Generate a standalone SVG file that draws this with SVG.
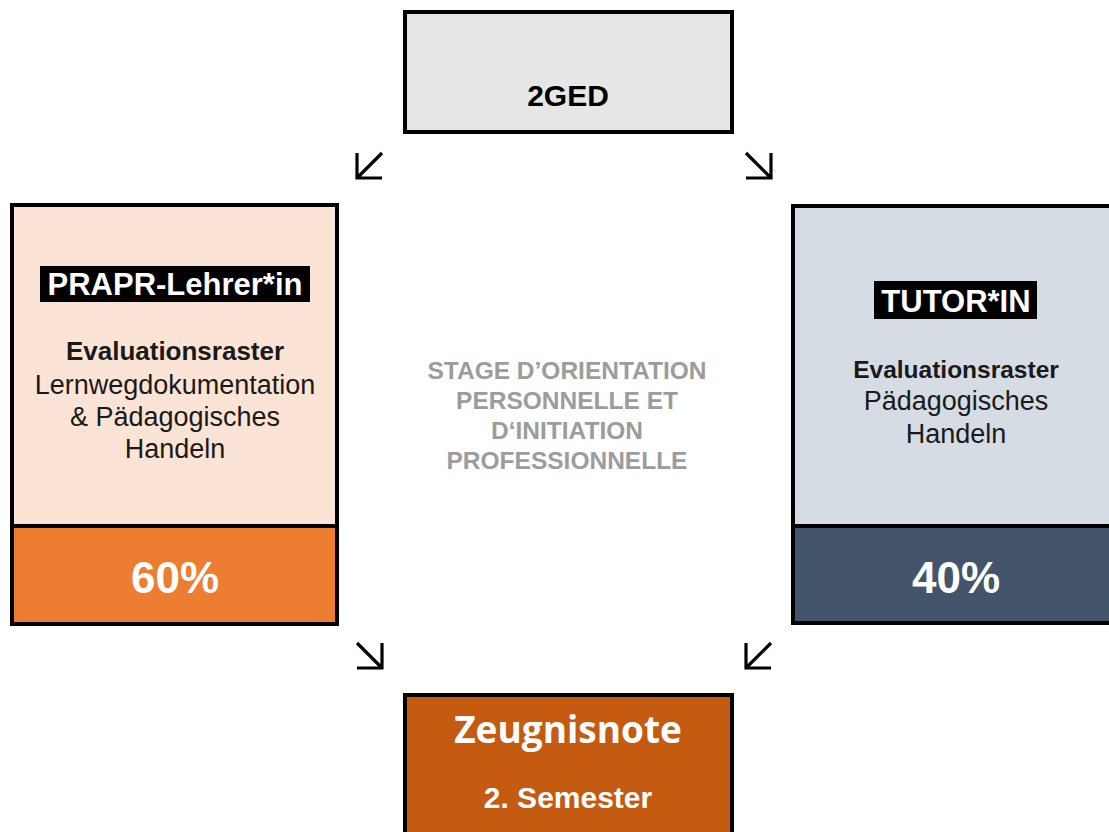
<svg xmlns="http://www.w3.org/2000/svg" width="1109" height="832" viewBox="0 0 1109 832">
<style>
.box{stroke:#000;stroke-width:4}
.arr{fill:none;stroke:#000;stroke-width:3.2;stroke-linecap:butt;stroke-linejoin:miter}
.b{font-family:"Liberation Sans",Arial,sans-serif;font-weight:bold;text-anchor:middle}
.r{font-family:"Liberation Sans",Arial,sans-serif;text-anchor:middle;fill:#1a1a1a}
.w{fill:#fff}
.mid{font-family:"Liberation Sans",Arial,sans-serif;font-weight:bold;text-anchor:middle;fill:#9c9c9c;font-size:24.5px}
</style>
<rect width="1109" height="832" fill="#fff"/>
<g id="top">
<rect class="box" x="405" y="12" width="327" height="120" fill="#e6e6e6"/>
<text class="b" x="568" y="106" font-size="30">2GED</text>
</g>
<g id="left">
<rect x="12" y="205" width="325" height="321" fill="#fbe4d6"/>
<rect x="12" y="526" width="325" height="98" fill="#ed7d31"/>
<rect class="box" x="12" y="205" width="325" height="419" fill="none"/>
<line class="box" x1="12" y1="526" x2="337" y2="526"/>
<rect x="40" y="266" width="270" height="36" fill="#000"/>
<text class="b w" x="175" y="295" font-size="31">PRAPR-Lehrer*in</text>
<text class="b" x="175" y="360" font-size="26" fill="#1a1a1a">Evaluationsraster</text>
<text class="r" x="175" y="394" font-size="27">Lernwegdokumentation</text>
<text class="r" x="175" y="426" font-size="27">&amp; Pädagogisches</text>
<text class="r" x="175" y="458" font-size="27">Handeln</text>
<text class="b w" x="175" y="593" font-size="44">60%</text>
</g>
<g id="right">
<rect x="793" y="206" width="320" height="320" fill="#d6dce4"/>
<rect x="793" y="526" width="320" height="97" fill="#44546a"/>
<rect class="box" x="793" y="206" width="320" height="417" fill="none"/>
<line class="box" x1="793" y1="526" x2="1113" y2="526"/>
<rect x="874" y="281" width="163" height="38" fill="#000"/>
<text class="b w" x="956" y="312" font-size="31">TUTOR*IN</text>
<text class="b" x="956" y="378" font-size="24.5" fill="#1a1a1a">Evaluationsraster</text>
<text class="r" x="956" y="410" font-size="27">Pädagogisches</text>
<text class="r" x="956" y="443" font-size="27">Handeln</text>
<text class="b w" x="956" y="593" font-size="44">40%</text>
</g>
<g id="center">
<text class="mid" x="567" y="379">STAGE D’ORIENTATION</text>
<text class="mid" x="567" y="409">PERSONNELLE ET</text>
<text class="mid" x="567" y="439">D‘INITIATION</text>
<text class="mid" x="567" y="469">PROFESSIONNELLE</text>
</g>
<g id="bottom">
<rect class="box" x="405" y="695" width="327" height="145" fill="#c55a11"/>
<text class="w" x="568" y="743" font-size="37" font-family="'Open Sans',sans-serif" font-weight="bold" text-anchor="middle">Zeugnisnote</text>
<text class="b w" x="568" y="808" font-size="30">2. Semester</text>
</g>
<g id="connectors">
<path class="arr" d="M382,153 L357,178 M357,153 L357,178 L382,178"/>
<path class="arr" d="M746,153 L771,178 M771,153 L771,178 L746,178"/>
<path class="arr" d="M357,643 L382,668 M382,643 L382,668 L357,668"/>
<path class="arr" d="M771,643 L746,668 M746,643 L746,668 L771,668"/>
</g>
</svg>
